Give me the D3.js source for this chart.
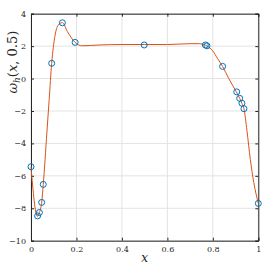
<!DOCTYPE html>
<html>
<head>
<meta charset="utf-8">
<script src="https://cdn.jsdelivr.net/npm/d3@7"></script>
<style>
  body { margin: 0; background: #fff; }
  text { font-family: "DejaVu Serif", "Liberation Serif", serif; }
</style>
</head>
<body>
<div id="chart"></div>
<script>
// sample points (circles)
var sampleX = [0, 0.029, 0.037, 0.047, 0.054, 0.091, 0.138, 0.194, 0.498, 0.767, 0.774, 0.843, 0.905, 0.918, 0.928, 0.937, 1.0];
var sampleY = [-5.44, -8.47, -8.26, -7.64, -6.53, 0.94, 3.44, 2.23, 2.07, 2.07, 2.02, 0.75, -0.82, -1.22, -1.52, -1.86, -7.7];

// interpolated curve
var curveX = [0, 0.028, 0.037, 0.047, 0.054, 0.07, 0.08, 0.091, 0.105, 0.12, 0.138, 0.16, 0.194, 0.225, 0.3, 0.4, 0.5, 0.6, 0.7, 0.74, 0.767, 0.775, 0.8, 0.82, 0.843, 0.87, 0.903, 0.918, 0.928, 0.937, 0.95, 0.965, 0.98, 1.0];
var curveY = [-5.44, -8.5, -8.26, -7.64, -6.53, -3.3, -1.3, 0.94, 2.6, 3.3, 3.45, 2.9, 2.23, 2.02, 2.07, 2.1, 2.1, 2.1, 2.15, 2.15, 2.07, 2.0, 1.7, 1.25, 0.75, 0.0, -0.81, -1.22, -1.53, -1.86, -3.2, -5.0, -6.4, -7.7];

var xTicks = [0, 0.2, 0.4, 0.6, 0.8, 1];
var yTicks = [-10, -8, -6, -4, -2, 0, 2, 4];

var margin = {top: 13.7, right: 11.7, bottom: 27.3, left: 31},
    width = 270 - margin.left - margin.right,
    height = 268 - margin.top - margin.bottom;

var svg = d3.select("#chart").append("svg")
    .attr("width", 270)
    .attr("height", 268)
  .append("g")
    .attr("transform", "translate(" + margin.left + "," + margin.top + ")");

var x = d3.scaleLinear().domain([0, 1]).range([0, width]);
var y = d3.scaleLinear().domain([-10, 4]).range([height, 0]);

// grid
svg.append("g").selectAll("line").data(xTicks).enter().append("line")
    .attr("x1", d => x(d)).attr("x2", d => x(d))
    .attr("y1", 0).attr("y2", height)
    .attr("stroke", "#e3e3e3").attr("stroke-width", 1);
svg.append("g").selectAll("line").data(yTicks).enter().append("line")
    .attr("y1", d => y(d)).attr("y2", d => y(d))
    .attr("x1", 0).attr("x2", width)
    .attr("stroke", "#e3e3e3").attr("stroke-width", 1);

var fmt = d => d3.format("")(d).replace("-", "\u2212");

// axes, ticks inward
var axB = svg.append("g").attr("transform", "translate(0," + height + ")")
    .call(d3.axisBottom(x).tickValues(xTicks).tickSize(-3).tickPadding(6).tickFormat(fmt));
var axL = svg.append("g")
    .call(d3.axisLeft(y).tickValues(yTicks).tickSize(-3).tickPadding(5).tickFormat(fmt));
var axT = svg.append("g")
    .call(d3.axisTop(x).tickValues(xTicks).tickSize(-3).tickFormat(""));
var axR = svg.append("g").attr("transform", "translate(" + width + ",0)")
    .call(d3.axisRight(y).tickValues(yTicks).tickSize(-3).tickFormat(""));

[axB, axL, axT, axR].forEach(function(a) {
    a.select(".domain").attr("stroke", "#262626").attr("stroke-width", 1);
    a.selectAll(".tick line").attr("stroke", "#262626");
    a.selectAll("text").attr("fill", "#262626").style("font-size", "8px")
        .style("font-family", "'DejaVu Serif', serif");
});

// curve
var line = d3.line()
    .x(d => x(d[0]))
    .y(d => y(d[1]))
    .curve(d3.curveMonotoneX);

svg.append("path")
    .datum(curveX.map((v, i) => [v, curveY[i]]))
    .attr("fill", "none")
    .attr("stroke", "#D95319")
    .attr("stroke-width", 1)
    .attr("d", line);

// sample circles
svg.append("g").selectAll("circle")
    .data(sampleX.map((v, i) => [v, sampleY[i]]))
    .enter().append("circle")
    .attr("cx", d => x(d[0]))
    .attr("cy", d => y(d[1]))
    .attr("r", 3)
    .attr("fill", "none")
    .attr("stroke", "#0072BD")
    .attr("stroke-width", 1);

// labels
svg.append("text")
    .attr("x", width / 2)
    .attr("y", height + 21)
    .attr("text-anchor", "middle")
    .style("font-size", "12px")
    .style("font-style", "italic")
    .attr("fill", "#262626")
    .text("x");

var yl = svg.append("text")
    .attr("transform", "translate(" + (-14) + "," + (y(2) + 16) + ") rotate(-90)")
    .attr("text-anchor", "middle")
    .style("font-size", "13px")
    .attr("fill", "#262626");
yl.append("tspan").style("font-style", "italic").text("\u03c9");
yl.append("tspan").style("font-style", "italic").style("font-size", "9px").attr("dy", 3).text("h");
yl.append("tspan").attr("dy", -3).text("(");
yl.append("tspan").style("font-style", "italic").text("x");
yl.append("tspan").text(", 0.5)");
</script>
</body>
</html>
